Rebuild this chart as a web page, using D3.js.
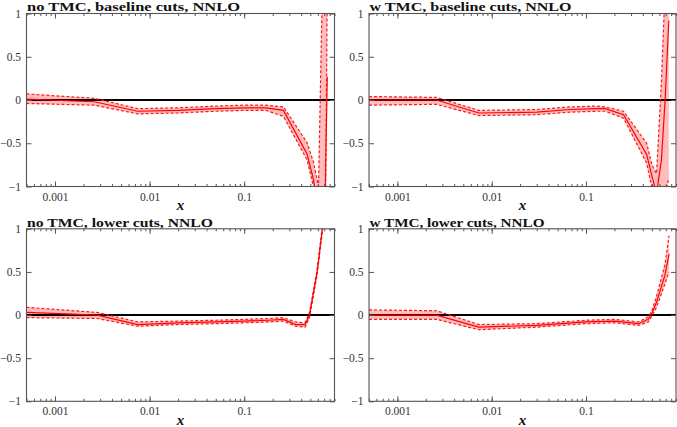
<!DOCTYPE html>
<html><head><meta charset="utf-8">
<script src="https://cdn.jsdelivr.net/npm/d3@7"></script>
<style>body{margin:0;background:#fff}svg{display:block}
svg text{font-family:'Liberation Serif','DejaVu Serif','Times New Roman',serif !important;}
</style>
</head><body>
<script>
// ---- data ----
const titles = ["no TMC, baseline cuts, NNLO", "w TMC, baseline cuts, NNLO", "no TMC, lower cuts, NNLO", "w TMC, lower cuts, NNLO"];
const xTickVals = [0.001, 0.01, 0.1];
const xTickLabels = ["0.001", "0.01", "0.1"];
const yTickVals = [1, 0.5, 0, -0.5, -1];
const yTickLabels = ["1", "0.5", "0", "\u22120.5", "\u22121"];
const xLabel = "x";

const xA = [5e-4, 2.6e-3, 7.5e-3, 0.02, 0.05, 0.1, 0.17, 0.26, 0.46, 0.54, 0.61, 0.67, 0.72, 0.755];
const cA = [0.01, -0.02, -0.13, -0.12, -0.1, -0.09, -0.09, -0.12, -0.62, -0.92, -1.3, -1.5, -1.0, 0.27];
const uA = [0.07, 0.02, -0.1, -0.09, -0.07, -0.06, -0.06, -0.08, -0.49, -0.72, -1.0, 1.3, 1.6, 1.8];
const lA = [-0.04, -0.06, -0.16, -0.15, -0.13, -0.12, -0.12, -0.19, -0.69, -1.0, -1.6, -1.8, -1.5, 1.3];

const xB = [5e-4, 2.6e-3, 7.3e-3, 0.03, 0.068, 0.13, 0.16, 0.25, 0.44, 0.5, 0.56, 0.63, 0.69, 0.755];
const cB = [0, 0, -0.15, -0.14, -0.11, -0.1, -0.1, -0.17, -0.63, -0.88, -1.08, -0.7, 0.0, 0.92];
const uB = [0.04, 0.03, -0.12, -0.11, -0.08, -0.07, -0.08, -0.13, -0.5, -0.75, -0.85, 0.2, 1.3, 1.6];
const lB = [-0.06, -0.05, -0.18, -0.17, -0.14, -0.13, -0.13, -0.21, -0.73, -1.02, -1.3, -1.2, -1.1, -0.9];

const xC = [5e-4, 2.8e-3, 7.5e-3, 0.02, 0.05, 0.1, 0.18, 0.26, 0.35, 0.44, 0.49, 0.59, 0.67, 0.75];
const cC = [0.03, 0.0, -0.11, -0.09, -0.08, -0.07, -0.06, -0.05, -0.11, -0.11, 0.0, 0.5, 1.0, 1.5];
const uC = [0.09, 0.03, -0.08, -0.07, -0.06, -0.05, -0.04, -0.03, -0.08, -0.09, 0.03, 0.53, 1.03, 1.55];
const lC = [-0.03, -0.04, -0.13, -0.11, -0.1, -0.09, -0.08, -0.07, -0.13, -0.14, -0.03, 0.47, 0.97, 1.45];

const xD = [5e-4, 2.6e-3, 7.3e-3, 0.03, 0.1, 0.2, 0.36, 0.457, 0.5, 0.56, 0.686, 0.76];
const cD = [0, 0, -0.14, -0.12, -0.08, -0.07, -0.1, -0.05, 0.02, 0.15, 0.46, 0.71];
const uD = [0.06, 0.05, -0.11, -0.1, -0.06, -0.05, -0.08, -0.02, 0.05, 0.22, 0.58, 0.92];
const lD = [-0.05, -0.05, -0.17, -0.14, -0.1, -0.09, -0.12, -0.08, -0.01, 0.09, 0.36, 0.5];

const panelsData = [
  {x: xA, c: cA, u: uA, l: lA},
  {x: xB, c: cB, u: uB, l: lB},
  {x: xC, c: cC, u: uC, l: lC},
  {x: xD, c: cD, u: uD, l: lD}
];

// ---- layout ----
const W = 677, H = 427;
const boxes = [
  {x0: 26.5, x1: 334.5, y0: 13.5, y1: 186.5},
  {x0: 369, x1: 676, y0: 13.5, y1: 186.5},
  {x0: 26.5, x1: 334.5, y0: 228.8, y1: 401.3},
  {x0: 369, x1: 676, y0: 228.8, y1: 401.3}
];
const titleWidths = [213, 202, 186, 175];

const svg = d3.select("body").append("svg").attr("width", W).attr("height", H);
const defs = svg.append("defs");
const frameCol = "#555";
const textCol = "#333";
const serif = "'Liberation Serif', 'DejaVu Serif', 'Times New Roman', serif";

boxes.forEach((b, i) => {
  const d = panelsData[i];
  const x = d3.scaleLog().domain([5e-4, 0.9]).range([b.x0, b.x1]);
  const y = d3.scaleLinear().domain([-1, 1]).range([b.y1, b.y0]);
  const g = svg.append("g");
  const cid = "clip" + i;
  defs.append("clipPath").attr("id", cid).append("rect")
    .attr("x", b.x0).attr("y", b.y0).attr("width", b.x1 - b.x0).attr("height", b.y1 - b.y0);

  const pts = d.x.map((xv, k) => ({x: xv, c: d.c[k], u: d.u[k], l: d.l[k]}));
  const dg = g.append("g").attr("clip-path", `url(#${cid})`);
  dg.append("path").datum(pts)
    .attr("d", d3.area().x(p => x(p.x)).y0(p => y(p.l)).y1(p => y(p.u)))
    .attr("fill", "#ffbcbc").attr("stroke", "none");
  dg.append("line").attr("x1", b.x0).attr("x2", b.x1).attr("y1", y(0)).attr("y2", y(0))
    .attr("stroke", "#000").attr("stroke-width", 2);
  ["u", "l"].forEach(key => {
    dg.append("path").datum(pts)
      .attr("d", d3.line().x(p => x(p.x)).y(p => y(p[key])))
      .attr("fill", "none").attr("stroke", "#ff1a1a").attr("stroke-width", 1.2)
      .attr("stroke-dasharray", "3,2");
  });
  dg.append("path").datum(pts)
    .attr("d", d3.line().x(p => x(p.x)).y(p => y(p.c)))
    .attr("fill", "none").attr("stroke", "#ff0000").attr("stroke-width", 1.2);

  const minor = [];
  for (let e = -4; e <= 0; e++) for (let m = 1; m <= 9; m++) {
    const v = m * Math.pow(10, e);
    if (v >= 5e-4 && v <= 0.9) minor.push(v);
  }
  const styleAxis = sel => { sel.select(".domain").remove(); sel.selectAll(".tick line").attr("stroke", frameCol); };
  const bG = g.append("g").attr("transform", `translate(0,${b.y1})`)
    .call(d3.axisBottom(x).tickValues(xTickVals).tickFormat((v, k) => xTickLabels[k]).tickSizeInner(-5).tickSizeOuter(0).tickPadding(6));
  styleAxis(bG);
  bG.selectAll("text").attr("fill", textCol).style("font-family", serif).attr("font-size", 11.5);
  styleAxis(g.append("g").attr("transform", `translate(0,${b.y1})`).call(d3.axisBottom(x).tickValues(minor).tickFormat("").tickSizeInner(-2.5).tickSizeOuter(0)));
  styleAxis(g.append("g").attr("transform", `translate(0,${b.y0})`).call(d3.axisTop(x).tickValues(xTickVals).tickFormat("").tickSizeInner(-5).tickSizeOuter(0)));
  styleAxis(g.append("g").attr("transform", `translate(0,${b.y0})`).call(d3.axisTop(x).tickValues(minor).tickFormat("").tickSizeInner(-2.5).tickSizeOuter(0)));
  const lG = g.append("g").attr("transform", `translate(${b.x0},0)`)
    .call(d3.axisLeft(y).tickValues(yTickVals).tickFormat((v, k) => yTickLabels[k]).tickSizeInner(-5).tickSizeOuter(0).tickPadding(5.5));
  styleAxis(lG);
  lG.selectAll("text").attr("fill", textCol).style("font-family", serif).attr("font-size", 11.5);
  styleAxis(g.append("g").attr("transform", `translate(${b.x1},0)`)
    .call(d3.axisRight(y).tickValues(yTickVals).tickFormat("").tickSizeInner(-5).tickSizeOuter(0)));
  g.append("rect").attr("x", b.x0).attr("y", b.y0).attr("width", b.x1 - b.x0).attr("height", b.y1 - b.y0)
    .attr("fill", "none").attr("stroke", frameCol).attr("stroke-width", 1.1);

  const t = g.append("text").attr("x", b.x0 + 0.5).attr("y", b.y0 - 2.3)
    .style("font-family", serif).attr("font-weight", "bold").attr("font-size", 12.5)
    .attr("fill", "#111").text(titles[i]);
  t.attr("textLength", titleWidths[i]).attr("lengthAdjust", "spacingAndGlyphs");
  g.append("text").attr("x", (b.x0 + b.x1) / 2).attr("y", b.y1 + 23.5).attr("text-anchor", "middle")
    .style("font-family", serif).attr("font-weight", "bold").attr("font-style", "italic")
    .attr("font-size", 15).attr("fill", "#111").text(xLabel);
});
</script>
</body></html>
